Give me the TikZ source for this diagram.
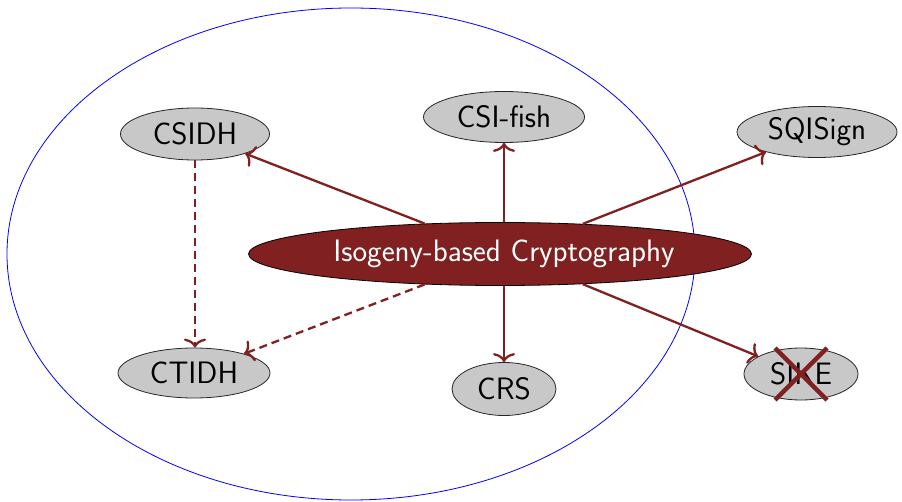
\documentclass[tikz,border=0pt]{standalone}
\usetikzlibrary{shapes.geometric,arrows.meta}
\definecolor{maroonc}{RGB}{128,32,32}
\definecolor{nodegray}{RGB}{200,200,200}
\begin{document}
\begin{tikzpicture}[x=1pt,y=-1pt,
  scheme/.style={ellipse,draw=black!85,line width=0.8pt,fill=nodegray,inner sep=0pt,
    font=\sffamily\fontsize{31}{35}\selectfont},
  centre/.style={ellipse,draw=black,line width=0.8pt,fill=maroonc,text=white,inner sep=0pt,
    font=\sffamily\fontsize{31}{35}\selectfont},
  link/.style={draw=maroonc,line width=2.3pt,-{To[length=9pt,width=22pt]}},
  dlink/.style={link,dash pattern=on 8pt off 5pt}]
\useasboundingbox (0,0) rectangle (902,502);
\draw[blue,line width=0.8pt] (351,254) ellipse [x radius=344, y radius=246];
\node[centre,minimum width=503,minimum height=63] (iso) at (500,254) {\hspace{8pt}Isogeny-based Cryptography};
\node[scheme,minimum width=149,minimum height=52] (csidh) at (195,134) {CSIDH};
\node[scheme,minimum width=161,minimum height=51] (csifish) at (504,117) {CSI-fish};
\node[scheme,minimum width=160,minimum height=51] (sqisign) at (817,132) {SQISign};
\node[scheme,minimum width=152,minimum height=50] (ctidh) at (194,373) {CTIDH};
\node[scheme,minimum width=104,minimum height=53] (crs) at (504,389) {CRS};
\node[scheme,minimum width=114,minimum height=52] (sike) at (801,374) {SIKE};
\draw[maroonc,line width=4.5pt] ([shift={(-26,-26)}]sike.center) coordinate (xa) -- ([shift={(26,26)}]sike.center) coordinate (xb);
\draw[maroonc,line width=4.5pt] ([shift={(26,-26)}]sike.center) coordinate (xc) -- ([shift={(-26,26)}]sike.center) coordinate (xd);
\draw[link] (iso.158) -- (csidh);
\draw[link] (iso.north -| csifish) -- (csifish);
\draw[link] (iso.20) -- (sqisign);
\draw[link] (iso.-20) -- (sike);
\draw[link] (iso.south -| crs) -- (crs);
\draw[dlink] (iso.-158) -- (ctidh);
\draw[dlink] (csidh) -- (ctidh.north -| csidh);
\end{tikzpicture}
\end{document}
